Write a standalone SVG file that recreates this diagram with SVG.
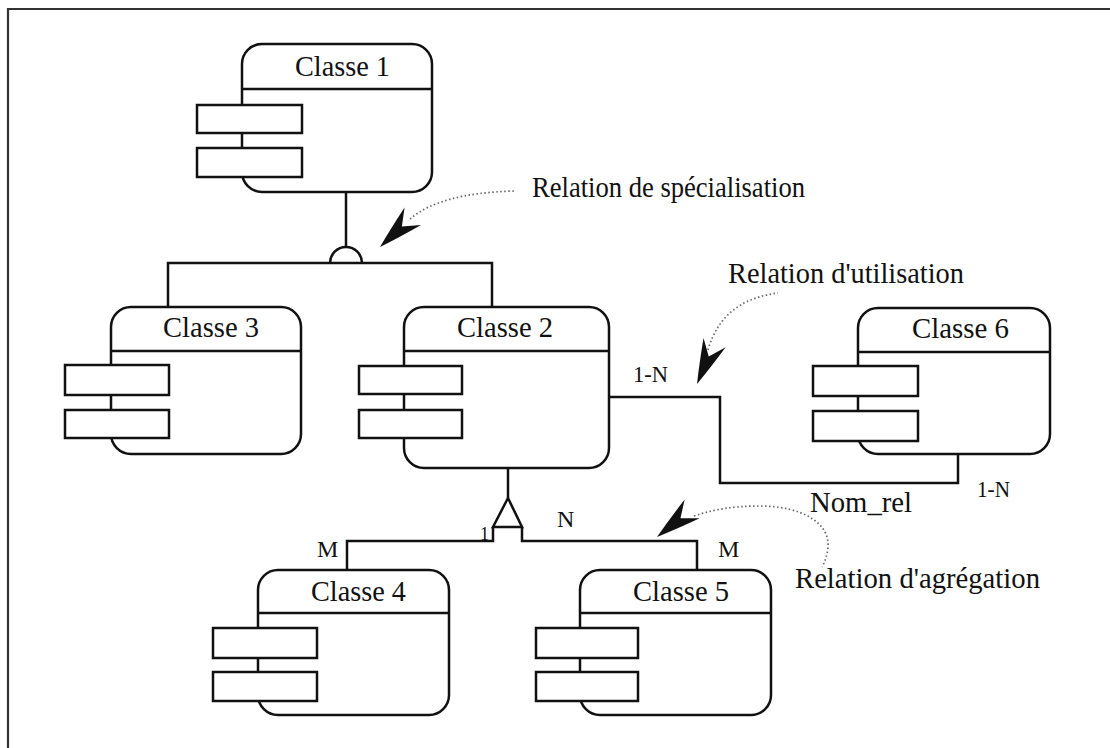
<svg xmlns="http://www.w3.org/2000/svg" width="1110" height="748" viewBox="0 0 1110 748">
<style>
.box{fill:#fff;stroke:#111;stroke-width:2.5}
.ln{fill:none;stroke:#111;stroke-width:2.5}
.attr{fill:#fff;stroke:#111;stroke-width:2.5}
.t{font-family:"Liberation Serif","Times New Roman",serif;font-size:30px;fill:#111}
.c{font-family:"Liberation Serif","Times New Roman",serif;font-size:24px;fill:#111}
.dot{fill:none;stroke:#666;stroke-width:1.7;stroke-dasharray:1.5 2.5}
.dart{fill:#111;stroke:none}
</style>
<defs>
<path id="dart" d="M0,0 Q-20,-6 -45,-12 L-30,0 L-45,12 Q-20,6 0,0 Z"/>
</defs>
<rect width="1110" height="748" fill="#fff"/>
<g id="frame"><path d="M8,748 L8,9 L1110,9" fill="none" stroke="#333" stroke-width="2.2"/></g>

<g id="connectors">
<path class="ln" d="M346,192 L346,247"/>
<path class="ln" d="M330,263 A16,16 0 0 1 362,263"/>
<path class="ln" d="M168,307 L168,263 L492,263 L492,307"/>
<path class="ln" d="M609,397 L720,397 L720,483 L958,483 L958,454"/>
<path class="ln" d="M508,468 L508,498"/>
<path class="ln" d="M508,498 L493,527 L522,527 Z"/>
<path class="ln" d="M493,527 L493,541 L347,541 L347,570"/>
<path class="ln" d="M522,527 L522,541 L697,541 L697,570"/>
<path class="dot" d="M410,219 Q440,193 514,191"/>
<path class="dot" d="M708,350 Q722,300 778,293"/>
<path class="dot" d="M694,516 C720,507 745,506 760,506 C800,506 830,522 828,547 Q827,558 822,567"/>
<use href="#dart" class="dart" transform="translate(380,247) rotate(136.8)"/>
<use href="#dart" class="dart" transform="translate(697,384) rotate(113)"/>
<use href="#dart" class="dart" transform="translate(657,537) rotate(141.4)"/>
</g>

<g id="classe1">
<rect class="box" x="242" y="44" width="190" height="148" rx="20"/>
<line class="ln" x1="242" y1="89" x2="432" y2="89"/>
<rect class="attr" x="197" y="105" width="105" height="28"/>
<rect class="attr" x="197" y="148" width="105" height="29"/>
<text class="t" x="295" y="76" textLength="95" lengthAdjust="spacingAndGlyphs">Classe 1</text>
</g>

<g id="classe3">
<rect class="box" x="111" y="307" width="190" height="147" rx="20"/>
<line class="ln" x1="111" y1="351" x2="301" y2="351"/>
<rect class="attr" x="65" y="365" width="104" height="30"/>
<rect class="attr" x="65" y="410" width="104" height="28"/>
<text class="t" x="163" y="337" textLength="96" lengthAdjust="spacingAndGlyphs">Classe 3</text>
</g>

<g id="classe2">
<rect class="box" x="404" y="307" width="205" height="161" rx="20"/>
<line class="ln" x1="404" y1="351" x2="609" y2="351"/>
<rect class="attr" x="359" y="366" width="103" height="28"/>
<rect class="attr" x="359" y="410" width="103" height="28"/>
<text class="t" x="457" y="337" textLength="96" lengthAdjust="spacingAndGlyphs">Classe 2</text>
</g>

<g id="classe6">
<rect class="box" x="858" y="308" width="192" height="146" rx="20"/>
<line class="ln" x1="858" y1="352" x2="1050" y2="352"/>
<rect class="attr" x="813" y="366" width="105" height="30"/>
<rect class="attr" x="813" y="411" width="105" height="30"/>
<text class="t" x="912" y="338" textLength="97" lengthAdjust="spacingAndGlyphs">Classe 6</text>
</g>

<g id="classe4">
<rect class="box" x="258" y="570" width="191" height="145" rx="20"/>
<line class="ln" x1="258" y1="613" x2="449" y2="613"/>
<rect class="attr" x="213" y="628" width="104" height="30"/>
<rect class="attr" x="213" y="672" width="104" height="29"/>
<text class="t" x="311" y="601" textLength="95" lengthAdjust="spacingAndGlyphs">Classe 4</text>
</g>

<g id="classe5">
<rect class="box" x="580" y="570" width="191" height="145" rx="20"/>
<line class="ln" x1="580" y1="613" x2="771" y2="613"/>
<rect class="attr" x="536" y="628" width="102" height="30"/>
<rect class="attr" x="536" y="672" width="102" height="29"/>
<text class="t" x="633" y="601" textLength="96" lengthAdjust="spacingAndGlyphs">Classe 5</text>
</g>

<g id="labels">
<text class="t" x="532" y="197" textLength="273" lengthAdjust="spacingAndGlyphs">Relation de spécialisation</text>
<text class="t" x="728" y="283" textLength="236" lengthAdjust="spacingAndGlyphs">Relation d'utilisation</text>
<text class="t" x="795" y="588" textLength="245" lengthAdjust="spacingAndGlyphs">Relation d'agrégation</text>
<text class="t" x="810" y="512" textLength="102" lengthAdjust="spacingAndGlyphs">Nom_rel</text>
<text class="c" x="633" y="382" textLength="35" lengthAdjust="spacingAndGlyphs">1-N</text>
<text class="c" x="977" y="497" textLength="33" lengthAdjust="spacingAndGlyphs">1-N</text>
<text class="c" x="317" y="557">M</text>
<text class="c" x="557" y="527">N</text>
<text class="c" x="718" y="557">M</text>
<text class="c" x="480" y="540" style="font-size:18px">1</text>
</g>
</svg>
